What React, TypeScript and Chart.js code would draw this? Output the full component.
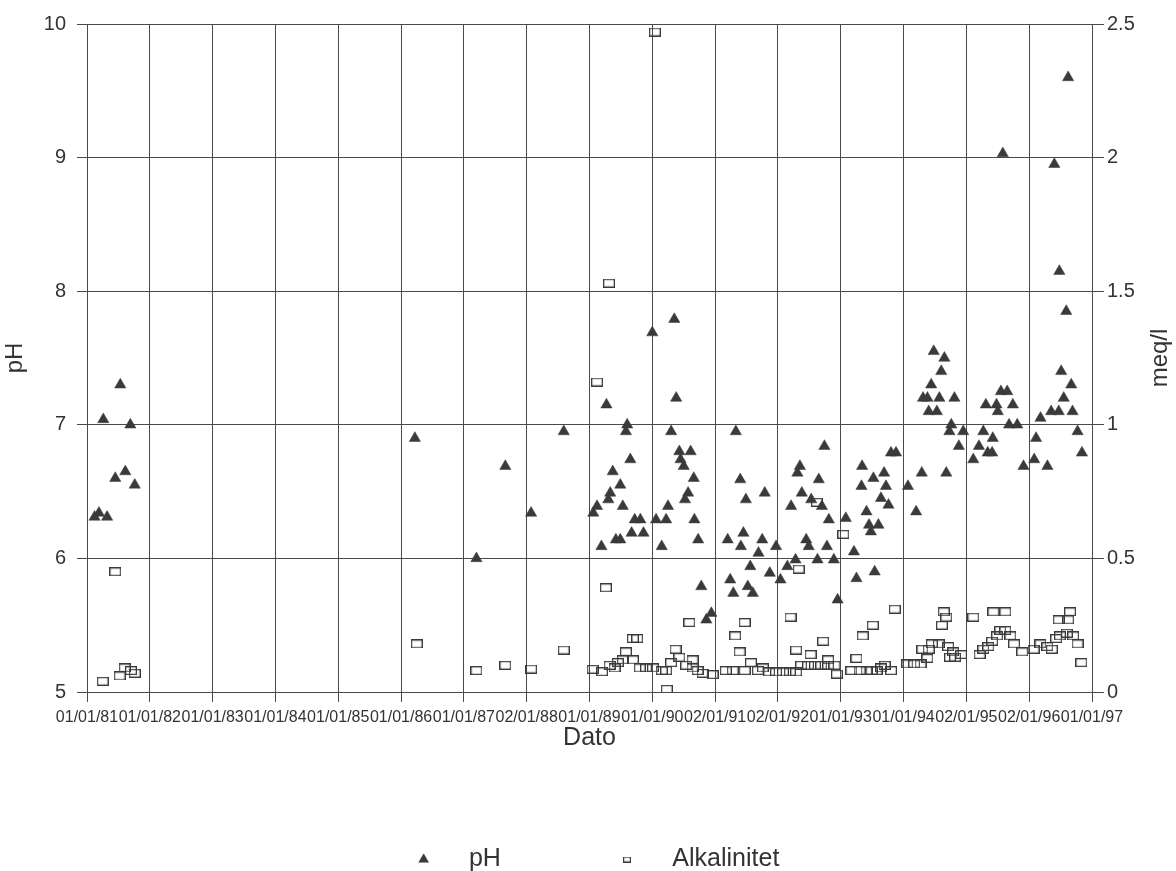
import { useEffect, useRef } from 'react';
import { Chart, registerables } from 'chart.js';

Chart.register(...registerables);

// x axis: decimal year (81 = 01/01/81), labels as printed on the original
const dateTicks = [
  '01/01/81', '01/01/82', '01/01/83', '01/01/84', '01/01/85', '01/01/86',
  '01/01/87', '02/01/88', '01/01/89', '01/01/90', '02/01/91', '02/01/92',
  '01/01/93', '01/01/94', '02/01/95', '02/01/96', '01/01/97',
];

const phDates = [
  81.12, 81.19, 81.32, 81.26, 81.53, 81.45, 81.61, 81.69, 81.76,
  86.22, 87.2, 87.66, 88.07, 88.59,
  89.27, 89.6, 89.58, 89.65, 89.37, 89.49, 89.33, 89.3, 89.12, 89.06, 89.53,
  89.72, 89.81, 89.67, 89.86, 89.19, 89.42, 89.49,
  90.0, 90.35, 90.38, 90.3, 90.43, 90.61, 90.45, 90.5, 90.66, 90.25, 90.57,
  90.52, 90.06, 90.22, 90.67, 90.15, 90.73, 90.78, 90.94, 90.86,
  91.33, 91.4, 91.49, 91.79, 91.2, 91.45, 91.41, 91.75, 91.69, 91.97, 91.56,
  91.24, 91.29, 91.52, 91.6, 91.87,
  92.04, 92.74, 92.35, 92.31, 92.65, 92.38, 92.21, 92.53, 92.7, 92.81, 92.45,
  92.49, 92.78, 92.28, 92.15, 92.63, 92.89, 92.95,
  93.08, 93.34, 93.52, 93.69, 93.33, 93.72, 93.64, 93.76, 93.41, 93.45, 93.6,
  93.48, 93.8, 93.88, 93.21, 93.25, 93.54,
  94.07, 94.29, 94.2, 94.68, 94.48, 94.65, 94.6, 94.44, 94.31, 94.38, 94.57,
  94.81, 94.4, 94.53, 94.76, 94.73, 94.95, 94.88,
  95.11, 95.2, 95.27, 95.42, 95.34, 95.41, 95.31, 95.48, 95.5, 95.55, 95.65,
  95.74, 95.68, 95.81, 95.58, 95.91,
  96.08, 96.11, 96.29, 96.18, 96.35, 96.47, 96.69, 96.55, 96.51, 96.67, 96.77,
  96.84, 96.4, 96.48, 96.59, 96.62,
];

const phValues = [
  6.31, 6.34, 6.31, 7.04, 7.3, 6.6, 6.65, 7.0, 6.55,
  6.9, 6.0, 6.69, 6.34, 6.95,
  7.15, 7.0, 6.95, 6.74, 6.65, 6.55, 6.49, 6.44, 6.39, 6.34, 6.39,
  6.29, 6.29, 6.19, 6.19, 6.09, 6.14, 6.14,
  7.69, 7.79, 7.2, 6.95, 6.8, 6.8, 6.74, 6.69, 6.6, 6.39, 6.49,
  6.44, 6.29, 6.29, 6.29, 6.09, 6.14, 5.79, 5.59, 5.54,
  6.95, 6.59, 6.44, 6.49, 6.14, 6.19, 6.09, 6.14, 6.04, 6.09, 5.94,
  5.84, 5.74, 5.79, 5.74, 5.89,
  5.84, 6.84, 6.69, 6.64, 6.59, 6.49, 6.39, 6.44, 6.39, 6.29, 6.14,
  6.09, 6.09, 5.99, 5.94, 5.99, 5.99, 5.69,
  6.3, 6.69, 6.6, 6.64, 6.54, 6.54, 6.45, 6.4, 6.35, 6.25, 6.25,
  6.2, 6.79, 6.79, 6.05, 5.85, 5.9,
  6.54, 6.64, 6.35, 6.64, 7.55, 7.5, 7.4, 7.3, 7.2, 7.2, 7.2,
  7.2, 7.1, 7.1, 7.0, 6.95, 6.95, 6.84,
  6.74, 6.84, 6.95, 6.9, 6.79, 6.79, 7.15, 7.15, 7.1, 7.25, 7.25,
  7.15, 7.0, 7.0, 9.03, 6.69,
  6.74, 6.9, 6.69, 7.05, 7.1, 7.1, 7.1, 7.2, 7.4, 7.3, 6.95,
  6.79, 8.95, 8.15, 7.85, 9.6,
];

const alkDates = [
  81.45, 81.25, 81.52, 81.6, 81.7, 81.76,
  86.25, 87.2, 87.66, 88.07, 88.59,
  89.12, 89.31, 89.26, 89.05, 89.2, 89.32, 89.4, 89.45, 89.53, 89.58, 89.69,
  89.76, 89.69, 89.8, 89.9,
  90.01, 90.04, 90.23, 90.15, 90.22, 90.3, 90.37, 90.43, 90.54, 90.64, 90.64,
  90.59, 90.72, 90.8, 90.96,
  91.17, 91.28, 91.32, 91.39, 91.47, 91.47, 91.57, 91.68, 91.76, 91.86, 91.97,
  92.08, 92.19, 92.29, 92.2, 92.29, 92.37, 92.48, 92.59, 92.52, 92.72, 92.69,
  92.8, 92.9, 92.8, 92.94, 92.62, 92.33,
  93.04, 93.17, 93.25, 93.35, 93.51, 93.86, 93.3, 93.41, 93.49, 93.57, 93.64,
  93.7, 93.8,
  94.06, 94.17, 94.27, 94.38, 94.3, 94.4, 94.45, 94.56, 94.61, 94.68, 94.64,
  94.71, 94.74, 94.82, 94.92, 94.79,
  95.11, 95.21, 95.27, 95.35, 95.43, 95.62, 95.41, 95.49, 95.54, 95.62, 95.7,
  95.76, 95.89,
  96.07, 96.18, 96.29, 96.36, 96.43, 96.49, 96.47, 96.62, 96.65, 96.6, 96.7,
  96.77, 96.83,
];

const alkValues = [
  0.45, 0.04, 0.06, 0.09, 0.08, 0.07,
  0.18, 0.08, 0.1, 0.086, 0.157,
  1.16, 1.53, 0.39, 0.085, 0.076, 0.1, 0.09, 0.11, 0.12, 0.15, 0.2,
  0.2, 0.12, 0.09, 0.09,
  0.09, 2.47, 0.01, 0.08, 0.08, 0.11, 0.16, 0.13, 0.1, 0.12, 0.09,
  0.26, 0.08, 0.07, 0.065,
  0.08, 0.08, 0.21, 0.15, 0.26, 0.08, 0.11, 0.08, 0.09, 0.075, 0.075,
  0.075, 0.075, 0.075, 0.28, 0.157, 0.1, 0.1, 0.1, 0.14, 0.19, 0.1,
  0.1, 0.1, 0.12, 0.067, 0.71, 0.46,
  0.59, 0.08, 0.126, 0.21, 0.25, 0.31, 0.08, 0.08, 0.08, 0.08, 0.09,
  0.1, 0.08,
  0.105, 0.105, 0.105, 0.126, 0.16, 0.16, 0.18, 0.18, 0.25, 0.28, 0.3,
  0.17, 0.13, 0.13, 0.14, 0.15,
  0.28, 0.14, 0.16, 0.17, 0.3, 0.3, 0.19, 0.21, 0.23, 0.23, 0.21,
  0.18, 0.15,
  0.16, 0.18, 0.17, 0.16, 0.2, 0.21, 0.27, 0.27, 0.3, 0.22, 0.21,
  0.18, 0.11,
];

const FONT = "'Liberation Sans', Arial, sans-serif";
const INK = '#333333';
const GRID = '#4a4a4a';

// open rectangle marker (wider than tall, like the original)
function rectMarker(w: number, h: number, lw: number) {
  const c = document.createElement('canvas');
  c.width = w;
  c.height = h;
  const ctx = c.getContext('2d')!;
  ctx.strokeStyle = '#3a3a3a';
  ctx.lineWidth = lw;
  ctx.strokeRect(lw / 2, lw / 2, w - lw, h - lw);
  return c;
}

// both axis titles read bottom-to-top, so draw them here
const axisTitles = {
  id: 'axisTitles',
  afterDraw(chart: any) {
    const { ctx, chartArea } = chart;
    const midY = (chartArea.top + chartArea.bottom) / 2;
    const drawTitle = (text: string, x: number) => {
      ctx.save();
      ctx.translate(x, midY);
      ctx.rotate(-Math.PI / 2);
      ctx.font = `24px ${FONT}`;
      ctx.fillStyle = INK;
      ctx.textAlign = 'center';
      ctx.textBaseline = 'middle';
      ctx.fillText(text, 0, 0);
      ctx.restore();
    };
    drawTitle('pH', 15);
    drawTitle('meq/l', chart.scales.y2.right - 16);
  },
};

const App = () => {
  const chartRef = useRef<HTMLCanvasElement | null>(null);
  const chartInstance = useRef<Chart | null>(null);

  useEffect(() => {
    if (!chartRef.current) return;

    if (chartInstance.current) {
      chartInstance.current.destroy();
    }

    const bigRect = rectMarker(12, 9, 1.3);
    const smallRect = rectMarker(8, 6, 1.2);

    chartInstance.current = new Chart(chartRef.current, {
      type: 'scatter',
      data: {
        datasets: [
          {
            label: 'pH',
            data: phDates.map((d, i) => ({ x: d, y: phValues[i] })),
            yAxisID: 'y',
            pointStyle: 'triangle',
            pointRadius: 6.5,
            backgroundColor: '#3a3a3a',
            borderColor: '#3a3a3a',
            borderWidth: 0.5,
          },
          {
            label: 'Alkalinitet',
            data: alkDates.map((d, i) => ({ x: d, y: alkValues[i] })),
            yAxisID: 'y2',
            pointStyle: bigRect,
            pointRadius: 6,
            backgroundColor: 'rgba(0,0,0,0)',
            borderColor: '#3a3a3a',
          },
        ],
      },
      options: {
        responsive: true,
        maintainAspectRatio: false,
        animation: false,
        layout: { padding: { top: 24, left: 22, right: 0, bottom: 0 } },
        scales: {
          x: {
            type: 'linear',
            min: 81,
            max: 97,
            afterFit: (s: any) => {
              s.height = 145;
            },
            ticks: {
              stepSize: 1,
              autoSkip: false,
              maxRotation: 0,
              minRotation: 0,
              padding: 6,
              color: INK,
              font: { family: FONT, size: 16 },
              callback: (v: any) => dateTicks[Math.round(Number(v)) - 81] ?? '',
            },
            grid: { color: GRID, lineWidth: 1, tickLength: 10 },
            border: { color: GRID },
            title: {
              display: true,
              text: 'Dato',
              color: INK,
              font: { family: FONT, size: 25 },
              padding: { top: 0, bottom: 84 },
            },
          },
          y: {
            type: 'linear',
            position: 'left',
            min: 5,
            max: 10,
            afterFit: (s: any) => {
              s.width = 65;
            },
            ticks: {
              stepSize: 1,
              padding: 11,
              color: INK,
              font: { family: FONT, size: 20 },
            },
            grid: { color: GRID, lineWidth: 1, tickLength: 10 },
            border: { color: GRID },
          },
          y2: {
            type: 'linear',
            position: 'right',
            min: 0,
            max: 2.5,
            afterFit: (s: any) => {
              s.width = 84;
            },
            ticks: {
              stepSize: 0.5,
              padding: 3,
              color: INK,
              font: { family: FONT, size: 20 },
              callback: (v: any) => String(Number(v)),
            },
            grid: { drawOnChartArea: false, color: GRID, tickLength: 12 },
            border: { color: GRID },
          },
        },
        plugins: {
          tooltip: { enabled: false },
          legend: {
            position: 'bottom',
            labels: {
              usePointStyle: true,
              boxWidth: 10,
              boxHeight: 8,
              padding: 10,
              color: INK,
              font: { family: FONT, size: 25 },
              generateLabels: (chart: any) =>
                Chart.defaults.plugins.legend.labels
                  .generateLabels(chart)
                  .map((l: any, i: number) =>
                    i === 0
                      ? { ...l, text: '    pH                ' }
                      : { ...l, text: '    Alkalinitet', pointStyle: smallRect }
                  ),
            },
          },
        },
      },
      plugins: [axisTitles],
    });

    return () => {
      if (chartInstance.current) {
        chartInstance.current.destroy();
        chartInstance.current = null;
      }
    };
  }, []);

  return (
    <div
      style={{
        position: 'fixed',
        left: 0,
        top: 0,
        width: 1176,
        height: 882,
        background: '#ffffff',
      }}
    >
      <canvas ref={chartRef}></canvas>
    </div>
  );
};

export default App;
